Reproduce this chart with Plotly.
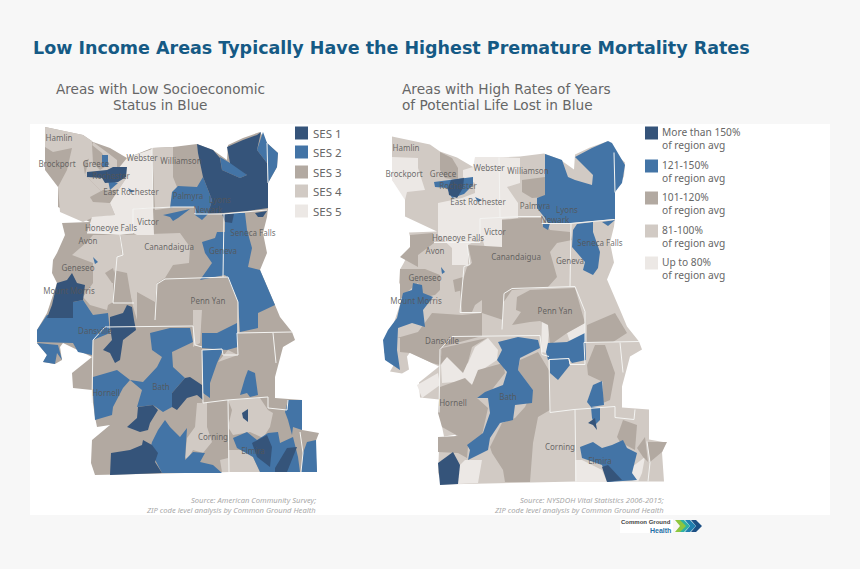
"""Low income areas vs premature mortality: two ZIP level choropleths drawn on a pixel-like map grid"""

import plotly.graph_objects as go

# map frame: the right hand map is the same outline moved over by this much
MAP_DX = 347
MAP_DY = 9.5

colors = ["#35547a", "#4374a6", "#b2a9a1", "#d1cac4", "#ece8e5"]

title = "Low Income Areas Typically Have the Highest Premature Mortality Rates"

ses_labels = ["SES 1", "SES 2", "SES 3", "SES 4", "SES 5"]
ypll_labels = ["More than 150%", "121-150%", "101-120%", "81-100%", "Up to 80%"]

place_names = ["Hamlin", "Brockport", "Greece", "Webster", "Williamson", "Rochester", "East Rochester", "Palmyra",
               "Lyons", "Newark", "Victor", "Honeoye Falls", "Seneca Falls", "Avon", "Canandaigua", "Geneva",
               "Geneseo", "Mount Morris", "Penn Yan", "Dansville", "Bath", "Hornell", "Corning", "Elmira"]
place_x = [59, 57, 96, 142, 181, 111, 131, 188, 220, 208, 148, 111, 253, 88, 169, 223, 78, 69, 208, 95, 161, 106, 213, 253]
place_y = [139, 165, 165, 159, 162, 177, 193, 197, 201, 211, 223, 229, 234, 242, 248, 252, 269, 292, 302, 332, 388, 394, 438, 452]

outline = [(45, 127), (83, 135), (93, 142), (110, 148), (127, 158), (152, 148), (173, 147), (197, 144), (213, 150),
           (227, 160), (228, 145), (243, 138), (260, 132), (267, 143), (278, 153), (277, 167), (268, 183), (268, 208),
           (267, 217), (263, 233), (267, 253), (260, 270), (275, 305), (280, 317), (292, 332), (295, 340), (283, 347),
           (278, 367), (275, 377), (275, 398), (302, 400), (302, 430), (319, 433), (315, 443), (317, 472), (230, 472),
           (95, 475), (91, 463), (92, 440), (110, 425), (97, 427), (95, 417), (93, 403), (92, 390), (73, 388), (72, 373),
           (92, 357), (63, 343), (60, 347), (62, 360), (55, 364), (43, 362), (47, 355), (37, 343), (37, 330), (47, 313),
           (57, 283), (52, 273), (53, 260), (57, 253), (65, 235), (62, 223), (90, 222), (58, 207), (58, 187), (45, 170)]

county_lines = [
    [(133, 209), (153, 208), (173, 207), (195, 207), (195, 214), (223, 214), (267, 210)],
    [(267, 143), (268, 183)],
    [(152, 148), (153, 208)],
    [(87, 233), (133, 233), (133, 209)],
    [(120, 235), (123, 255), (117, 257), (113, 303), (134, 303)],
    [(224, 214), (223, 277)],
    [(155, 320), (157, 284), (165, 279), (228, 277), (238, 302), (238, 333)],
    [(92, 403), (93, 340), (105, 327), (193, 326), (195, 345), (202, 347)],
    [(202, 350), (222, 349), (223, 355), (238, 355), (237, 333), (292, 332)],
    [(202, 350), (203, 403), (227, 400), (268, 397), (268, 408), (287, 410), (288, 400)],
    [(228, 400), (229, 472)],
    [(300, 432), (303, 453), (301, 472)],
    [(273, 333), (276, 363)],
]

# left map, SES classes
ses4_left = [
    [(45, 127), (83, 135), (92, 141), (92, 157), (83, 162), (85, 175), (102, 192), (90, 198), (110, 203), (115, 215),
     (92, 218), (83, 222), (60, 212), (58, 187), (67, 170), (72, 148), (53, 152), (45, 147)],
    [(85, 175), (102, 192), (117, 192), (127, 177), (117, 170), (117, 160), (108, 153), (93, 142)],
    [(152, 148), (173, 147), (173, 177), (177, 187), (170, 208), (155, 210)],
    [(121, 235), (180, 233), (190, 247), (189, 263), (173, 265), (165, 278), (157, 283), (155, 302), (137, 292),
     (137, 320), (132, 303), (127, 273), (113, 270), (117, 255), (122, 255)],
    [(93, 235), (120, 235), (122, 255), (117, 257), (113, 280), (113, 302), (108, 305), (107, 310), (90, 305), (83, 297),
     (93, 283), (93, 263), (72, 255), (87, 242)],
    [(197, 403), (207, 403), (207, 427), (212, 442), (203, 453), (193, 450), (187, 460), (185, 457), (187, 438), (195, 427)],
    [(228, 400), (260, 398), (268, 410), (273, 413), (270, 427), (263, 438), (250, 432), (233, 435), (228, 427), (232, 410)],
    [(228, 450), (243, 450), (253, 457), (260, 472), (228, 472)],
    [(220, 460), (228, 458), (228, 472), (222, 472)],
    [(193, 310), (202, 310), (200, 343), (193, 347)],
    [(218, 362), (238, 355), (228, 350)],
]
ses3_left = [
    [(90, 197), (103, 190), (117, 190), (110, 203), (93, 202)],
    [(92, 145), (102, 153), (108, 165), (100, 170), (93, 163)],
    [(105, 273), (113, 268), (117, 283), (112, 283)],
    [(113, 280), (125, 273), (132, 302), (115, 303)],
]
ses5_left = [
    [(127, 158), (152, 149), (153, 208), (133, 209), (134, 233), (120, 235), (87, 233), (92, 217), (115, 215), (110, 203),
     (117, 192), (127, 177), (117, 170)],
    [(133, 209), (153, 208), (154, 235), (137, 235), (133, 233)],
]
ses2_left = [
    [(170, 208), (172, 192), (178, 186), (197, 187), (203, 177), (212, 200), (208, 214), (202, 220), (195, 215), (195, 207),
     (173, 207)],
    [(163, 215), (175, 212), (190, 209), (178, 218), (173, 221), (170, 217)],
    [(220, 157), (230, 163), (232, 162), (247, 175), (240, 178), (222, 170)],
    [(257, 150), (263, 132), (267, 143), (278, 153), (277, 167), (268, 183), (267, 163)],
    [(202, 242), (215, 238), (217, 232), (225, 232), (225, 215), (233, 213), (245, 213), (247, 230), (252, 248), (248, 267),
     (260, 270), (275, 305), (258, 313), (258, 328), (240, 332), (238, 302), (228, 278), (225, 275), (200, 280), (212, 263),
     (205, 253)],
    [(73, 302), (83, 300), (93, 315), (108, 313), (110, 333), (93, 340), (92, 355), (78, 352), (73, 343), (37, 342), (37, 330),
     (47, 315), (63, 317)],
    [(37, 343), (58, 345), (62, 360), (57, 353), (55, 364), (43, 362), (47, 355)],
    [(102, 155), (108, 155), (108, 167), (102, 167)],
    [(128, 188), (135, 192), (130, 192)],
    [(93, 257), (98, 262), (95, 264)],
    [(108, 180), (118, 183), (110, 190)],
    [(150, 333), (170, 328), (190, 328), (193, 342), (172, 352), (173, 367), (185, 378), (172, 393), (172, 407), (163, 412),
     (153, 405), (137, 407), (142, 390), (130, 380), (123, 388), (113, 407), (112, 415), (95, 420), (93, 393), (93, 377),
     (117, 370), (130, 380), (143, 382), (157, 367), (162, 357), (152, 350)],
    [(202, 350), (223, 350), (217, 363), (210, 383), (210, 398), (203, 393), (203, 377)],
    [(202, 333), (217, 333), (237, 323), (238, 347), (227, 350), (202, 348)],
    [(248, 370), (255, 373), (258, 395), (250, 397), (247, 393), (240, 395), (245, 378)],
    [(158, 430), (165, 420), (170, 427), (180, 437), (187, 428), (185, 460), (193, 452), (205, 453), (200, 462), (213, 465),
     (222, 473), (162, 473), (150, 450), (152, 442)],
    [(233, 438), (247, 432), (257, 440), (268, 433), (278, 432), (280, 443), (293, 437), (298, 457), (300, 472), (260, 472),
     (253, 457), (237, 448)],
    [(288, 400), (302, 400), (302, 430), (293, 427), (292, 435), (288, 420), (285, 412)],
    [(307, 442), (316, 440), (317, 472), (301, 472), (303, 453)],
]
ses1_left = [
    [(197, 144), (213, 150), (220, 158), (222, 170), (240, 178), (247, 175), (230, 163), (227, 147), (243, 140), (257, 135),
     (261, 132), (257, 150), (267, 163), (268, 183), (268, 208), (247, 211), (223, 213), (208, 214), (212, 200), (203, 177),
     (198, 153)],
    [(87, 172), (107, 170), (113, 167), (127, 167), (126, 177), (118, 182), (105, 183), (102, 178), (87, 177)],
    [(222, 214), (234, 214), (232, 223), (225, 222)],
    [(255, 213), (267, 211), (263, 217), (258, 217)],
    [(57, 283), (67, 280), (72, 273), (77, 283), (85, 285), (83, 300), (73, 302), (73, 318), (60, 318), (47, 318), (52, 305),
     (53, 300)],
    [(110, 317), (123, 313), (127, 305), (132, 307), (134, 320), (136, 330), (123, 340), (120, 360), (115, 363), (110, 353),
     (103, 350), (112, 340), (110, 327)],
    [(185, 378), (190, 377), (202, 385), (203, 400), (197, 395), (187, 398), (177, 410), (172, 407), (172, 393)],
    [(127, 427), (137, 418), (138, 407), (153, 405), (158, 410), (150, 423), (148, 430), (140, 432)],
    [(111, 453), (130, 450), (142, 445), (143, 440), (152, 445), (158, 453), (155, 462), (162, 473), (110, 475)],
    [(252, 443), (267, 435), (272, 447), (270, 467), (257, 457)],
    [(275, 468), (287, 448), (297, 447), (290, 465), (287, 472), (275, 472)],
    [(242, 413), (248, 409), (248, 422), (243, 418)],
]

# right map, years of potential life lost classes
ses3_right = [
    [(440, 152), (452, 158), (458, 168), (458, 180), (445, 178), (440, 170)],
    [(522, 180), (545, 177), (545, 197), (532, 198), (522, 192)],
    [(410, 235), (433, 233), (434, 243), (418, 255), (418, 267), (400, 257), (410, 247)],
    [(400, 269), (425, 269), (440, 275), (440, 290), (435, 295), (425, 297), (418, 283), (407, 292), (400, 300)],
    [(502, 220), (522, 218), (542, 218), (550, 230), (570, 232), (572, 240), (557, 243), (550, 252), (557, 277), (548, 287),
     (512, 290), (503, 303), (503, 320), (482, 313), (482, 300), (475, 305), (472, 312), (462, 312), (460, 290), (467, 267),
     (472, 263), (468, 245), (502, 247)],
    [(453, 280), (463, 277), (463, 290), (455, 292)],
    [(517, 297), (530, 290), (575, 288), (583, 317), (585, 323), (567, 333), (550, 345), (548, 325), (540, 321), (530, 322),
     (512, 325), (521, 312), (516, 310)],
    [(397, 338), (418, 332), (432, 313), (462, 315), (482, 313), (482, 336), (442, 347), (440, 365), (432, 363), (410, 353),
     (400, 352), (400, 338)],
    [(442, 348), (487, 338), (472, 347), (468, 362), (463, 373), (447, 357), (440, 365)],
    [(440, 387), (465, 378), (472, 385), (478, 370), (503, 363), (505, 373), (490, 392), (477, 398), (488, 408), (482, 435),
     (468, 447), (467, 458), (458, 453), (438, 452), (438, 437), (458, 436), (442, 427), (438, 413)],
    [(520, 360), (538, 352), (550, 372), (550, 410), (538, 417), (533, 443), (530, 482), (505, 482), (503, 470), (492, 453),
     (490, 447), (502, 423), (515, 418), (525, 407), (533, 390), (518, 370)],
    [(587, 325), (615, 313), (627, 333), (613, 342), (587, 343)],
    [(587, 365), (595, 345), (605, 345), (615, 373), (610, 400), (603, 403), (603, 382), (588, 375)],
    [(617, 437), (623, 420), (637, 425), (635, 450), (620, 442)],
    [(637, 448), (645, 437), (648, 462), (643, 457)],
    [(647, 442), (667, 442), (662, 452), (650, 462)],
]
ses5_right = [
    [(392, 157), (418, 158), (418, 168), (425, 190), (407, 192), (405, 200), (392, 180)],
    [(463, 170), (473, 167), (475, 157), (500, 157), (520, 158), (520, 183), (507, 187), (518, 203), (518, 218), (502, 219),
     (502, 247), (485, 248), (482, 237), (468, 245), (468, 265), (452, 265), (452, 248), (438, 235), (438, 203), (452, 200),
     (462, 198), (475, 193), (475, 183), (463, 177)],
    [(468, 363), (475, 347), (488, 338), (498, 350), (497, 360), (482, 370), (472, 385), (470, 383), (455, 382), (442, 383),
     (441, 365), (447, 356), (460, 368)],
    [(417, 385), (438, 373), (440, 385), (430, 392), (422, 398)],
    [(458, 467), (465, 460), (482, 460), (478, 483), (458, 484)],
    [(575, 460), (582, 460), (602, 470), (607, 482), (575, 482)],
    [(632, 467), (645, 457), (642, 473), (638, 482), (632, 480)],
    [(567, 333), (585, 323), (585, 335), (570, 342)],
    [(542, 320), (550, 320), (547, 353), (541, 352)],
]
ses2_right = [
    [(545, 154), (562, 160), (568, 177), (575, 180), (592, 185), (593, 175), (575, 157), (592, 148), (608, 141), (612, 143),
     (625, 165), (622, 183), (615, 192), (615, 219), (572, 223), (548, 223), (545, 218), (537, 208), (537, 198), (545, 195)],
    [(543, 223), (550, 223), (548, 230), (543, 227)],
    [(577, 224), (593, 222), (593, 232), (600, 252), (598, 268), (593, 275), (583, 270), (585, 262), (572, 247), (573, 230)],
    [(602, 222), (615, 220), (608, 226)],
    [(434, 182), (450, 180), (473, 177), (473, 185), (464, 194), (452, 198), (447, 188), (435, 187)],
    [(475, 197), (482, 200), (478, 202)],
    [(441, 267), (445, 272), (442, 274)],
    [(403, 293), (412, 290), (413, 283), (422, 285), (423, 293), (433, 297), (423, 310), (425, 327), (412, 323), (398, 328),
     (397, 350), (400, 370), (385, 360), (383, 340), (388, 330), (397, 318)],
    [(498, 342), (518, 337), (538, 340), (540, 348), (520, 358), (518, 370), (533, 390), (532, 403), (515, 405), (513, 420),
     (500, 423), (490, 438), (488, 450), (468, 460), (470, 450), (467, 445), (483, 433), (490, 413), (488, 398), (477, 398),
     (485, 392), (503, 385), (507, 372), (497, 360), (502, 350)],
    [(548, 343), (567, 342), (585, 333), (586, 360), (572, 363), (568, 358), (548, 360), (546, 352)],
    [(550, 360), (568, 358), (570, 365), (558, 380), (550, 373)],
    [(593, 385), (602, 381), (604, 405), (591, 407), (587, 402)],
    [(591, 407), (600, 408), (600, 420), (595, 425), (592, 418)],
    [(580, 447), (593, 442), (602, 448), (612, 445), (623, 440), (627, 448), (637, 453), (632, 473), (637, 480), (608, 482),
     (602, 465), (582, 458)],
]
ses1_right = [
    [(451, 180), (464, 178), (463, 188), (457, 198), (449, 195), (448, 188)],
    [(588, 423), (595, 418), (597, 430), (593, 425)],
    [(602, 467), (608, 465), (622, 480), (607, 482)],
    [(438, 463), (453, 452), (460, 465), (458, 484), (440, 485)],
]

# logo chevrons, right one first so the left ones sit on top
chevron_colors = ["#1c4f84", "#1f7fb0", "#2fb1a3", "#8dc63f"]
chevron_shape = [(0, 0), (5, 0), (11, 6), (5, 12), (0, 12), (5, 6)]
chevron_left = [691, 685, 679, 675]


def shifted(points, dx=0, dy=0):
    return [p[0] + dx for p in points], [p[1] + dy for p in points]


def add_polys(fig, polys, color, dx=0, dy=0):
    for poly in polys:
        x, y = shifted(poly + poly[:1], dx, dy)
        fig.add_trace(go.Scatter(x=x, y=y, mode="lines", fill="toself", fillcolor=color,
                                 line=dict(width=0, color=color), hoverinfo="skip"))


def add_lines(fig, dx=0, dy=0):
    for line in county_lines:
        x, y = shifted(line, dx, dy)
        fig.add_trace(go.Scatter(x=x, y=y, mode="lines", line=dict(color="#f4f4f2", width=1), hoverinfo="skip"))


def add_places(fig, dx=0, dy=0):
    fig.add_trace(go.Scatter(x=[v + dx for v in place_x], y=[v + dy for v in place_y], mode="text", text=place_names,
                             textposition="middle center", hoverinfo="skip",
                             textfont=dict(family="Noto Sans", size=8, color="rgba(85,85,85,0.85)")))


def add_text(fig, x, y, text, size, color, anchor="left", family="Noto Sans"):
    fig.add_annotation(x=x, y=y, text=text, showarrow=False, xanchor=anchor, yanchor="middle", align=anchor,
                       font=dict(family=family, size=size, color=color))


fig = go.Figure()
fig.add_shape(type="rect", x0=30, x1=830, y0=124, y1=515, fillcolor="white", line_width=0, layer="below")
fig.add_shape(type="rect", x0=620, x1=673, y0=519, y1=533, fillcolor="white", line_width=0, layer="below")

# left map
add_polys(fig, [outline], colors[2])
add_polys(fig, ses4_left, colors[3])
add_polys(fig, ses3_left, colors[2])
add_polys(fig, ses5_left, colors[4])
add_polys(fig, ses2_left, colors[1])
add_polys(fig, ses1_left, colors[0])
add_lines(fig)
add_places(fig)

# right map
add_polys(fig, [outline], colors[3], MAP_DX, MAP_DY)
add_polys(fig, ses5_right, colors[4])
add_polys(fig, ses3_right, colors[2])
add_polys(fig, ses2_right, colors[1])
add_polys(fig, ses1_right, colors[0])
add_lines(fig, MAP_DX, MAP_DY)
add_places(fig, MAP_DX, MAP_DY)

# legends
ses_y = [133, 152, 172, 191, 211]
ypll_y = [133, 166, 198, 231, 263]
fig.add_trace(go.Scatter(x=[301.5] * 5, y=ses_y, mode="markers", hoverinfo="skip",
                         marker=dict(symbol="square", size=13, color=colors, line_width=0)))
fig.add_trace(go.Scatter(x=[651.5] * 5, y=ypll_y, mode="markers", hoverinfo="skip",
                         marker=dict(symbol="square", size=13, color=colors, line_width=0)))
for label, y in zip(ses_labels, ses_y):
    add_text(fig, 311, y, label, 11.5, "#666666")
for label, y in zip(ypll_labels, ypll_y):
    add_text(fig, 660, y - 1.5, label, 10.2, "#666666")
    add_text(fig, 660, y + 11.5, "of region avg", 10.2, "#666666")

# logo
for left, color in zip(chevron_left, chevron_colors):
    add_polys(fig, [chevron_shape], color, left, 520)

add_text(fig, 31, 48, "<b>" + title + "</b>", 17.5, "#155a85", family="DejaVu Sans")
add_text(fig, 160, 89, "Areas with Low Socioeconomic", 13.6, "#666666", anchor="center", family="DejaVu Sans")
add_text(fig, 160, 105, "Status in Blue", 13.6, "#666666", anchor="center", family="DejaVu Sans")
add_text(fig, 400, 89, "Areas with High Rates of Years", 13.7, "#666666", family="DejaVu Sans")
add_text(fig, 400, 105, "of Potential Life Lost in Blue", 13.7, "#666666", family="DejaVu Sans")
add_text(fig, 318, 500, "<i>Source: American Community Survey;</i>", 7.6, "#a8a8a8", anchor="right")
add_text(fig, 318, 510, "<i>ZIP code level analysis by Common Ground Health</i>", 7.6, "#a8a8a8", anchor="right")
add_text(fig, 666, 500, "<i>Source: NYSDOH Vital Statistics 2006-2015;</i>", 7.6, "#a8a8a8", anchor="right")
add_text(fig, 666, 510, "<i>ZIP code level analysis by Common Ground Health</i>", 7.6, "#a8a8a8", anchor="right")
add_text(fig, 673, 522, "<b>Common Ground</b>", 6, "#444444", anchor="right", family="Liberation Sans")
add_text(fig, 673, 530, "<b>Health</b>", 7, "#1f6fa5", anchor="right", family="Liberation Sans")

fig.update_xaxes(range=[0, 860], visible=False, fixedrange=True)
fig.update_yaxes(range=[569, 0], visible=False, fixedrange=True)
fig.update_layout(width=860, height=569, margin=dict(l=0, r=0, t=0, b=0), showlegend=False,
                  paper_bgcolor="#f7f7f7", plot_bgcolor="#f7f7f7")

fig.write_html("out.html", config=dict(displayModeBar=False),
               post_script="document.body.style.margin='0';document.body.style.overflow='hidden';")
